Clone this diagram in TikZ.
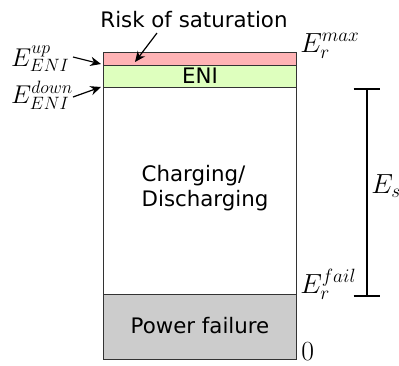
\documentclass[tikz,border=0pt]{standalone}
\usepackage{fontspec}
\setsansfont{DejaVu Sans}
\usetikzlibrary{arrows.meta}

\definecolor{satpink}{RGB}{255,179,181}
\definecolor{enigreen}{RGB}{222,255,190}
\definecolor{failgray}{RGB}{204,204,204}

\begin{document}
\begin{tikzpicture}[x=0.75pt, y=-0.75pt, font=\sffamily\fontsize{16}{19}\selectfont,
  band/.style={draw=black!80, line width=0.6pt},
  lbl/.style={inner sep=0pt, anchor=base west, font=\fontsize{20}{22}\selectfont},
  pointer/.style={-{Stealth[length=8pt,width=7pt]}, line width=0.9pt}]

\useasboundingbox (0,0) rectangle (399,365);

% Storage levels
\draw[band, fill=satpink] (103,52) rectangle (296,65);
\draw[band, fill=enigreen] (103,65) rectangle (296,87);
\draw[band, fill=white] (103,87) rectangle (296,294);
\draw[band, fill=failgray] (103,294) rectangle (296,359);

\node (eni) at (200,76) {ENI};
\node[align=left] (charge) at (205,188) {Charging/\\Discharging};
\node (fail) at (200,326) {Power failure};

% Top label
\node (risk) at (194,20) {Risk of saturation};
\coordinate (riskstart) at (157,33);
\coordinate (riskend) at (135,62);
\draw[pointer] (riskstart) -- (riskend);

% Left labels
\node[lbl, scale=0.93] (up) at (11,66) {$E_{ENI}^{up}$};
\node[lbl, scale=0.93] (down) at (11,103) {$E_{ENI}^{down}$};
\coordinate (upend) at (101,64);
\coordinate (downend) at (101,87);
\draw[pointer] (73,57) -- (upend);
\draw[pointer] (73,97) -- (downend);

% Right labels
\node[lbl] (emax) at (300,52) {$E_r^{max}$};
\node[lbl] (efail) at (300,293) {$E_r^{fail}$};
\node[lbl] (zero) at (301,360) {$0$};

% Bracket
\coordinate (btop) at (367,89);
\coordinate (bbot) at (367,296);
\draw[line width=1.5pt] (btop) -- (bbot);
\draw[line width=1.5pt] ([xshift=-10]btop) -- ([xshift=10]btop);
\draw[line width=1.5pt] ([xshift=-10]bbot) -- ([xshift=10]bbot);
\node[lbl] (es) at (371,193) {$E_s$};

\end{tikzpicture}
\end{document}
